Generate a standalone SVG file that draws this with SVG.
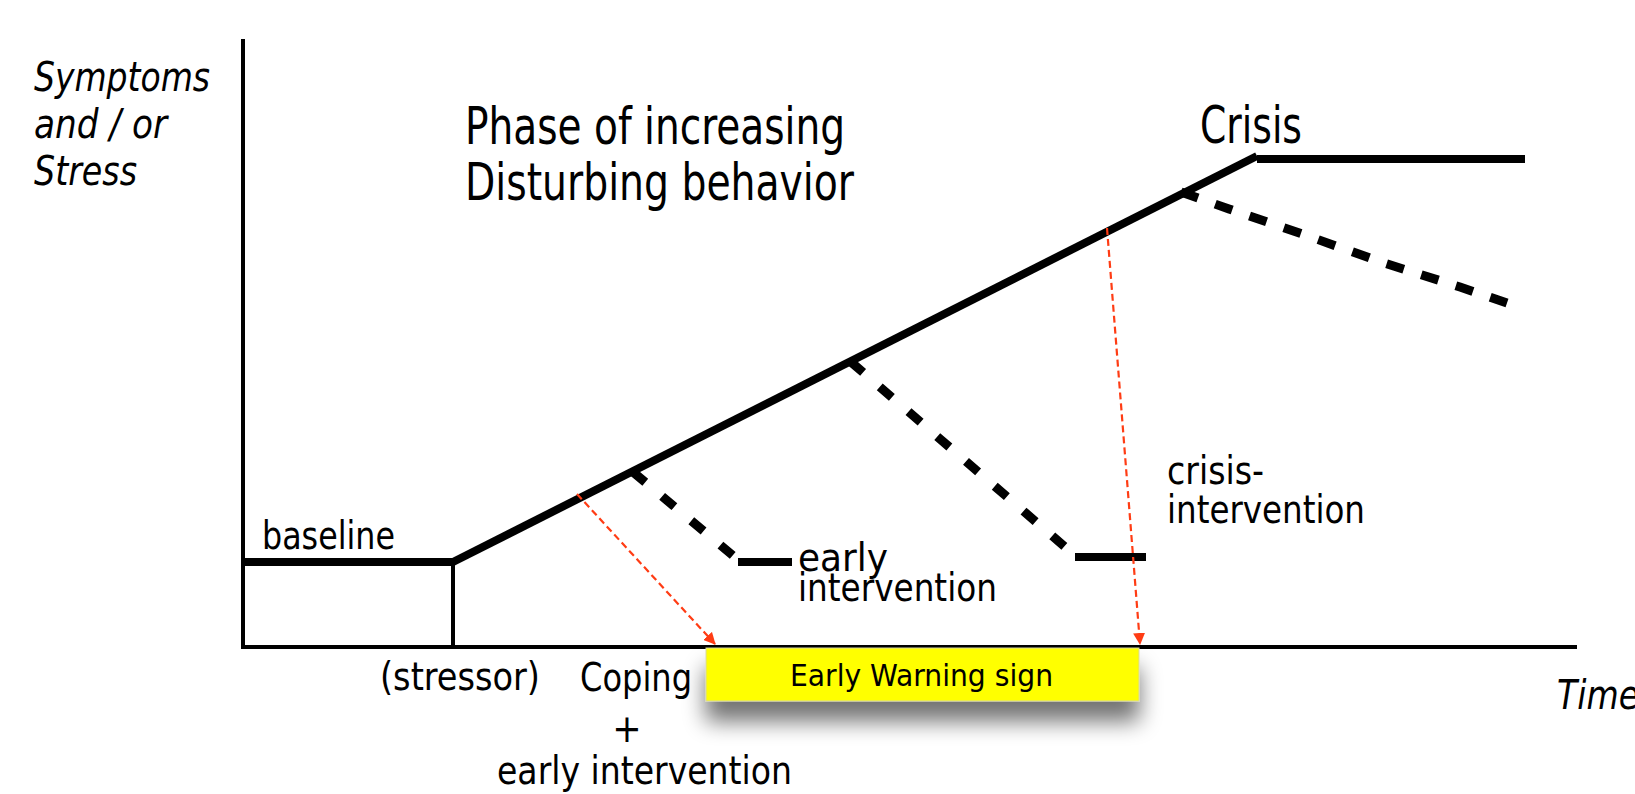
<svg xmlns="http://www.w3.org/2000/svg" width="1635" height="794" viewBox="0 0 1635 794">
<style>
.t{font-family:"DejaVu Sans Condensed","DejaVu Sans",sans-serif;font-stretch:condensed;fill:#000}
.it{font-style:italic}
.ax{stroke:#000;stroke-width:4;fill:none;stroke-linecap:square}
.thick{stroke:#000;stroke-width:8;fill:none}
.dash{stroke:#000;stroke-width:9;fill:none;stroke-dasharray:16 22}
.red{stroke:#ff3c14;stroke-width:2.2;fill:none;stroke-dasharray:7 4}
</style>
<defs>
<marker id="ah" viewBox="0 0 12 12" refX="11" refY="6" markerWidth="12" markerHeight="12" markerUnits="userSpaceOnUse" orient="auto">
<path d="M0,0 L12,6 L0,12 z" fill="#ff3c14"/>
</marker>
<filter id="sh" x="-15%" y="-60%" width="130%" height="300%">
<feGaussianBlur in="SourceAlpha" stdDeviation="11"/>
<feOffset dx="0" dy="20" result="b"/>
<feComponentTransfer><feFuncA type="linear" slope="0.55"/></feComponentTransfer>
<feMerge><feMergeNode/><feMergeNode in="SourceGraphic"/></feMerge>
</filter>
</defs>
<rect width="1635" height="794" fill="#fff"/>

<g id="axes">
<line class="ax" x1="243" y1="41" x2="243" y2="647"/>
<line class="ax" x1="243" y1="647" x2="1575" y2="647"/>
</g>

<g id="curves">
<line class="thick" x1="243" y1="562" x2="453" y2="562"/>
<line class="ax" x1="453" y1="562" x2="453" y2="647"/>
<path class="thick" d="M453,562 L1257,156" stroke-width="9.5"/>
<line class="thick" x1="1257" y1="159" x2="1525" y2="159"/>
<path class="dash" d="M633,472 L737,559"/>
<line class="thick" x1="738" y1="562" x2="792" y2="562"/>
<path class="dash" d="M851,362 L1072,553"/>
<line class="thick" x1="1075" y1="557" x2="1146" y2="557"/>
<path class="dash" d="M1181,192 L1229,209 L1308,236 L1381,262 L1460,287 L1507,303" style="stroke-dasharray:18 18.3"/>
</g>

<g id="connectors">
<line class="red" x1="577" y1="494" x2="715" y2="644" marker-end="url(#ah)"/>
<line class="red" x1="1107" y1="228" x2="1140" y2="644" marker-end="url(#ah)"/>
</g>

<g id="warning">
<rect x="706" y="648" width="433" height="53" fill="#ffff00" stroke="#d8d8a0" stroke-width="1" filter="url(#sh)"/>
<text class="t" x="790" y="686" font-size="31" textLength="263" lengthAdjust="spacingAndGlyphs">Early Warning sign</text>
</g>

<g id="labels">
<text class="t it" x="34" y="91" font-size="41" textLength="176" lengthAdjust="spacingAndGlyphs">Symptoms</text>
<text class="t it" x="34" y="138" font-size="41" textLength="133" lengthAdjust="spacingAndGlyphs">and / or</text>
<text class="t it" x="34" y="185" font-size="41" textLength="103" lengthAdjust="spacingAndGlyphs">Stress</text>
<text class="t" x="465" y="144" font-size="52" textLength="380" lengthAdjust="spacingAndGlyphs">Phase of increasing</text>
<text class="t" x="465" y="200" font-size="52" textLength="389" lengthAdjust="spacingAndGlyphs">Disturbing behavior</text>
<text class="t" x="1200" y="143" font-size="52" textLength="102" lengthAdjust="spacingAndGlyphs">Crisis</text>
<text class="t" x="262" y="549" font-size="39" textLength="133" lengthAdjust="spacingAndGlyphs">baseline</text>
<text class="t" x="798" y="571" font-size="39" textLength="90" lengthAdjust="spacingAndGlyphs">early</text>
<text class="t" x="798" y="601" font-size="39" textLength="199" lengthAdjust="spacingAndGlyphs">intervention</text>
<text class="t" x="1167" y="484" font-size="39" textLength="97" lengthAdjust="spacingAndGlyphs">crisis-</text>
<text class="t" x="1167" y="523" font-size="39" textLength="198" lengthAdjust="spacingAndGlyphs">intervention</text>
<text class="t" x="380" y="690" font-size="39" textLength="160" lengthAdjust="spacingAndGlyphs">(stressor)</text>
<text class="t" x="580" y="691" font-size="39" textLength="112" lengthAdjust="spacingAndGlyphs">Coping</text>
<text class="t" x="627" y="742" font-size="39" text-anchor="middle">+</text>
<text class="t" x="497" y="784" font-size="39" textLength="295" lengthAdjust="spacingAndGlyphs">early intervention</text>
<text class="t it" x="1557" y="709" font-size="41" textLength="82" lengthAdjust="spacingAndGlyphs">Time</text>
</g>
</svg>
